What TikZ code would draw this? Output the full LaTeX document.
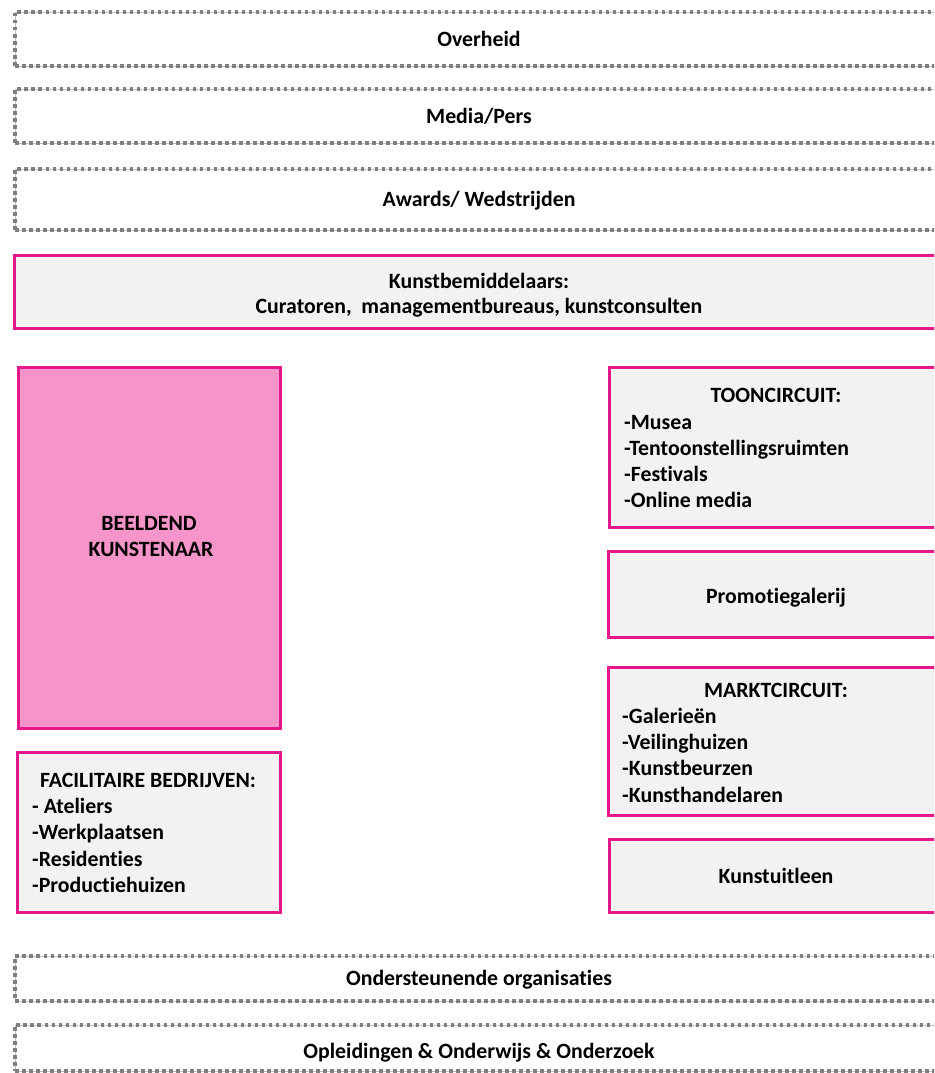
\documentclass[tikz,border=0pt]{standalone}
\usepackage{fontspec}
\setmainfont{Carlito}[Ligatures={NoCommon}]
\definecolor{pinkline}{HTML}{E6168C}
\definecolor{pinkfill}{HTML}{F794CA}
\definecolor{boxfill}{HTML}{F2F2F2}
\definecolor{dotgray}{HTML}{7F7F7F}
\definecolor{linegray}{HTML}{BFBFBF}
\tikzset{
  dashbox/.style={draw=linegray, line width=0.8pt, fill=white, inner sep=0pt,
    postaction={draw=dotgray, line width=3.5pt, dash pattern=on 3.5pt off 3.5pt}},
  pinkbox/.style={draw=pinkline, line width=3pt, fill=boxfill, inner sep=0pt},
  artistbox/.style={draw=pinkline, line width=3pt, fill=pinkfill, inner sep=0pt},
  lbl/.style={font=\fontsize{21.8}{26}\selectfont\bfseries, inner sep=0pt, text=black},
}
\begin{document}
\begin{tikzpicture}[x=1pt,y=-1pt]
\useasboundingbox (0,0) rectangle (934,1073);
\clip (0,0) rectangle (934,1073);

% dashed outer bands
\node[dashbox, minimum width=928pt, minimum height=54pt] (overheid) at (479,39) {};
\node[dashbox, minimum width=928pt, minimum height=54pt] (media) at (479,116) {};
\node[dashbox, minimum width=928pt, minimum height=61pt] (awards) at (479,199.5) {};
\node[dashbox, minimum width=928pt, minimum height=45pt] (onderst) at (479,978.5) {};
\node[dashbox, minimum width=928pt, minimum height=46pt] (opleid) at (479,1048) {};

\node[lbl, anchor=base] (overheid-t) at (479,47) {Overheid};
\node[lbl, anchor=base] (media-t) at (479,123) {Media/Pers};
\node[lbl, anchor=base] (awards-t) at (479,206) {Awards/ Wedstrijden};
\node[lbl, anchor=base] (onderst-t) at (479,985) {Ondersteunende organisaties};
\node[lbl, anchor=base] (opleid-t) at (479,1058) {Opleidingen \& Onderwijs \& Onderzoek};

% intermediaries
\node[pinkbox, minimum width=931pt, minimum height=73pt] (bemid) at (479.5,291.5) {};
\node[lbl, anchor=base] (bemid-t1) at (479,288) {Kunstbemiddelaars:};
\node[lbl, anchor=base] (bemid-t2) at (479,313) {Curatoren,\ \ managementbureaus, kunstconsulten};

% artist
\node[artistbox, minimum width=262pt, minimum height=361pt] (artist) at (149,547.5) {};
\node[lbl, anchor=base] (artist-t1) at (149,530) {BEELDEND};
\node[lbl, anchor=base] (artist-t2) at (151,556) {KUNSTENAAR};

% facilitaire bedrijven
\node[pinkbox, minimum width=263pt, minimum height=160pt] (facil) at (148.5,832) {};
\node[lbl, anchor=base] (facil-h) at (148,787) {FACILITAIRE BEDRIJVEN:};
\node[lbl, anchor=base west] (facil-1) at (32,813) {- Ateliers};
\node[lbl, anchor=base west] (facil-2) at (32,839) {-Werkplaatsen};
\node[lbl, anchor=base west] (facil-3) at (32,866) {-Residenties};
\node[lbl, anchor=base west] (facil-4) at (32,892) {-Productiehuizen};

% tooncircuit
\node[pinkbox, minimum width=334pt, minimum height=160pt] (toon) at (776,447) {};
\node[lbl, anchor=base] (toon-h) at (776,402) {TOONCIRCUIT:};
\node[lbl, anchor=base west] (toon-1) at (624,429) {-Musea};
\node[lbl, anchor=base west] (toon-2) at (624,455) {-Tentoonstellingsruimten};
\node[lbl, anchor=base west] (toon-3) at (624,481) {-Festivals};
\node[lbl, anchor=base west] (toon-4) at (624,507) {-Online media};

% promotiegalerij
\node[pinkbox, minimum width=336pt, minimum height=86pt] (promo) at (776,594) {};
\node[lbl, anchor=base] (promo-t) at (776,603) {Promotiegalerij};

% marktcircuit
\node[pinkbox, minimum width=336pt, minimum height=148pt] (markt) at (776,741) {};
\node[lbl, anchor=base] (markt-h) at (776,697) {MARKTCIRCUIT:};
\node[lbl, anchor=base west] (markt-1) at (622,723) {-Galerieën};
\node[lbl, anchor=base west] (markt-2) at (622,749) {-Veilinghuizen};
\node[lbl, anchor=base west] (markt-3) at (622,775) {-Kunstbeurzen};
\node[lbl, anchor=base west] (markt-4) at (622,802) {-Kunsthandelaren};

% kunstuitleen
\node[pinkbox, minimum width=334pt, minimum height=73pt] (uitleen) at (776,875.5) {};
\node[lbl, anchor=base] (uitleen-t) at (776,883) {Kunstuitleen};
\end{tikzpicture}
\end{document}
